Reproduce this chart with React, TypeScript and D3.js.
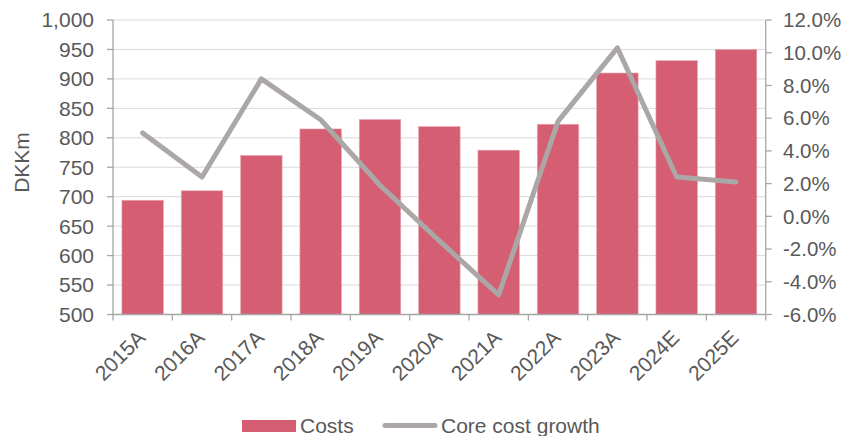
import React from "react";
import * as d3 from "d3";

const categories = ["2015A", "2016A", "2017A", "2018A", "2019A", "2020A", "2021A", "2022A", "2023A", "2024E", "2025E"];
const costs = [694, 710, 770, 815, 831, 819, 779, 823, 910, 931, 950];
const growth = [5.1, 2.4, 8.4, 5.9, 1.9, -1.5, -4.8, 5.8, 10.3, 2.4, 2.1];
const leftTicks = [500, 550, 600, 650, 700, 750, 800, 850, 900, 950, 1000];
const rightTicks = [-6, -4, -2, 0, 2, 4, 6, 8, 10, 12];

const W = 848;
const H = 436;
const left = 113;
const right = 765.7;
const top = 20;
const bottom = 314.5;
const BAR = "#d55e73";
const LINE = "#aba7a6";
const TXT = "#595959";
const AXIS = "#a6a6a6";
const GRID = "#d9d9d9";
const FONT = "'Liberation Sans', Arial, sans-serif";

export default function App() {
  const x = d3.scaleBand<string>().domain(categories).range([left, right]).paddingInner(0.3).paddingOuter(0.15);
  const yL = d3.scaleLinear().domain([500, 1000]).range([bottom, top]);
  const yR = d3.scaleLinear().domain([-6, 12]).range([bottom, top]);
  const step = x.step();
  const bw = x.bandwidth();
  const cx = (c: string) => (x(c) as number) + bw / 2;
  const line = d3
    .line<number>()
    .x((_, i) => cx(categories[i]))
    .y((d) => yR(d));
  const fmtL = d3.format(",");
  const fmtR = (v: number) => v.toFixed(1) + "%";

  return (
    <svg width={W} height={H} style={{ position: "absolute", left: 0, top: 0, background: "#fff" }} fontFamily={FONT}>
      {leftTicks.slice(1).map((t) => (
        <line key={"g" + t} x1={left} x2={right} y1={yL(t)} y2={yL(t)} stroke={GRID} strokeWidth={1} />
      ))}
      {categories.map((c, i) => (
        <rect key={c} x={x(c)} y={yL(costs[i])} width={bw} height={bottom - yL(costs[i])} fill={BAR} stroke="#e9a9b4" strokeWidth={0.6} />
      ))}
      {/* axes */}
      <line x1={left} x2={left} y1={top} y2={bottom} stroke={AXIS} strokeWidth={1.3} />
      <line x1={right} x2={right} y1={top} y2={bottom} stroke={AXIS} strokeWidth={1.3} />
      <line x1={left} x2={right} y1={bottom} y2={bottom} stroke={AXIS} strokeWidth={1.3} />
      {leftTicks.map((t) => (
        <g key={"l" + t}>
          <line x1={left - 6} x2={left} y1={yL(t)} y2={yL(t)} stroke={AXIS} strokeWidth={1.3} />
          <text x={94} y={yL(t)} dy="0.35em" textAnchor="end" fontSize={21} fill={TXT}>
            {fmtL(t)}
          </text>
        </g>
      ))}
      {rightTicks.map((t) => (
        <g key={"r" + t}>
          <line x1={right} x2={right + 6} y1={yR(t)} y2={yR(t)} stroke={AXIS} strokeWidth={1.3} />
          <text x={783} y={yR(t)} dy="0.35em" textAnchor="start" fontSize={20.5} fill={TXT}>
            {fmtR(t)}
          </text>
        </g>
      ))}
      {d3.range(categories.length + 1).map((i) => (
        <line key={"xt" + i} x1={left + i * step} x2={left + i * step} y1={bottom} y2={bottom + 6} stroke={AXIS} strokeWidth={1.3} />
      ))}
      {categories.map((c) => (
        <text key={"xl" + c} transform={`translate(${cx(c) + 4},${339}) rotate(-45)`} textAnchor="end" fontSize={21} fill={TXT}>
          {c}
        </text>
      ))}
      <text transform={`translate(29,162.5) rotate(-90)`} textAnchor="middle" fontSize={21} fill={TXT}>
        DKKm
      </text>
      <path d={line(growth) || ""} fill="none" stroke={LINE} strokeWidth={5} strokeLinejoin="round" strokeLinecap="round" />
      {/* legend */}
      <rect x={242} y={420} width={54} height={12} fill={BAR} />
      <text x={300} y={433} fontSize={21} fill={TXT}>
        Costs
      </text>
      <line x1={385} x2={435} y1={425.5} y2={425.5} stroke={LINE} strokeWidth={5} strokeLinecap="round" />
      <text x={441} y={433} fontSize={21} fill={TXT}>
        Core cost growth
      </text>
    </svg>
  );
}
